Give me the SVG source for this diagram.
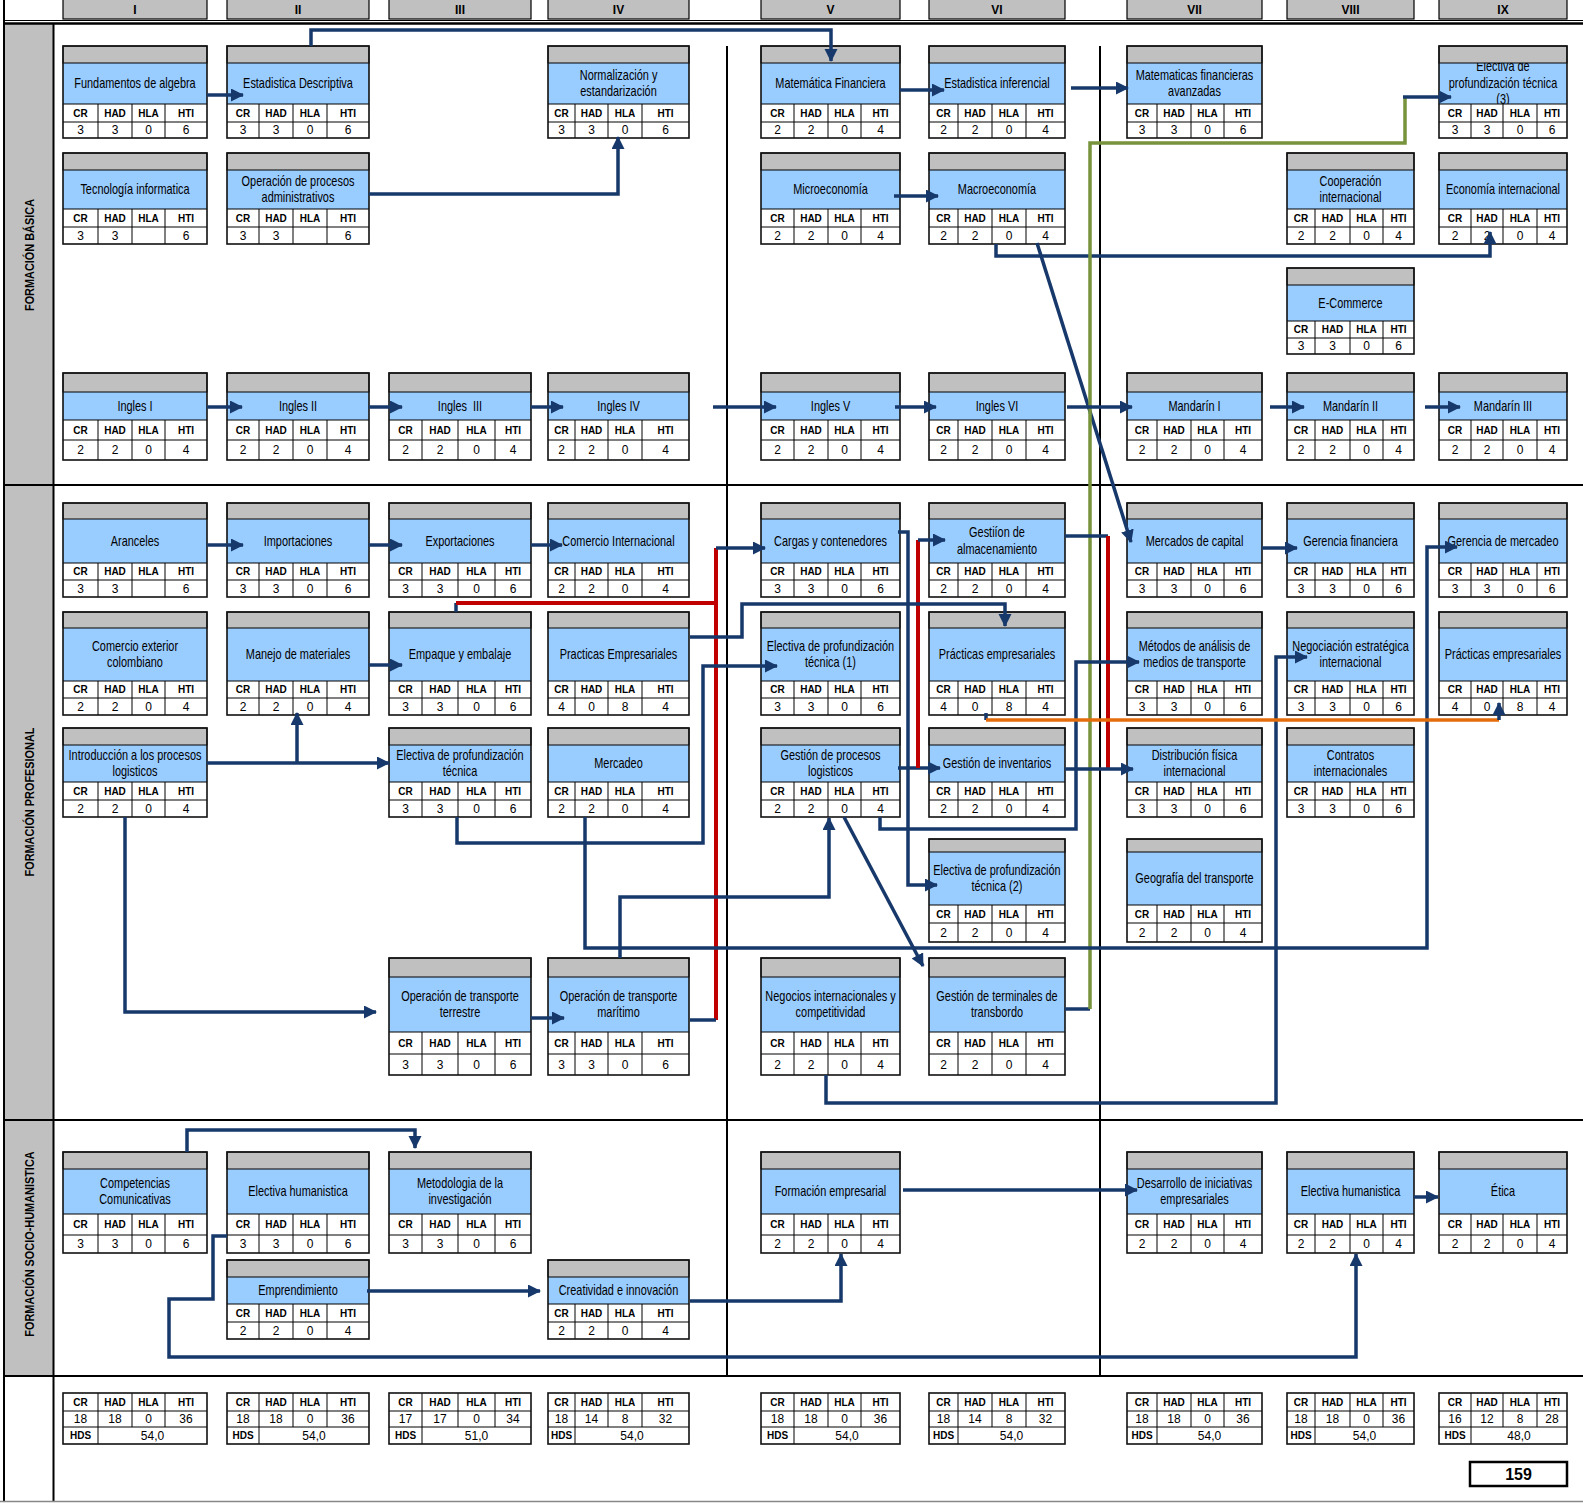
<svg xmlns="http://www.w3.org/2000/svg" xmlns:xlink="http://www.w3.org/1999/xlink" width="1583" height="1503" viewBox="0 0 1583 1503">
<style>
text{font-family:'Liberation Sans',Arial,sans-serif;text-anchor:middle;fill:#000}
.t{font-size:14px;transform-box:fill-box;transform-origin:center;transform:scaleX(0.78)}
.l{font-size:10px;font-weight:bold}
.v{font-size:12px}
.h{font-size:12px;font-weight:bold}
.s{font-size:13.3px;font-weight:bold}
.bl{fill:#99CCFF}
.gr{fill:#C0C0C0;stroke:#000;stroke-width:1}
.w{fill:#fff}
.tl{fill:none;stroke:#000;stroke-width:1}
.o{fill:none;stroke:#111;stroke-width:1.6}
.hd{fill:#C0C0C0;stroke:#000;stroke-width:1.2}
.fr{fill:none;stroke:#000;stroke-width:2}
.c{fill:none;stroke:#17386A;stroke-width:3.5}
.a{marker-end:url(#ah)}
.r{fill:none;stroke:#C00000;stroke-width:4}
.g{fill:none;stroke:#77933C;stroke-width:3.5}
.or{fill:none;stroke:#E46C0A;stroke-width:3.5}
</style>
<defs>
<marker id="ah" markerUnits="userSpaceOnUse" markerWidth="14" markerHeight="14" refX="12" refY="6.5" orient="auto"><path d="M0,0L13,6.5L0,13Z" fill="#17386A"/></marker>
<text id="lbI" class="l"><tspan x="80.5">CR</tspan><tspan x="115">HAD</tspan><tspan x="148.5">HLA</tspan><tspan x="186">HTI</tspan></text>
<text id="lbII" class="l"><tspan x="243">CR</tspan><tspan x="276">HAD</tspan><tspan x="310">HLA</tspan><tspan x="348">HTI</tspan></text>
<text id="lbIII" class="l"><tspan x="405.5">CR</tspan><tspan x="440">HAD</tspan><tspan x="476.5">HLA</tspan><tspan x="513">HTI</tspan></text>
<text id="lbIV" class="l"><tspan x="561.5">CR</tspan><tspan x="591.5">HAD</tspan><tspan x="625">HLA</tspan><tspan x="665.5">HTI</tspan></text>
<text id="lbV" class="l"><tspan x="777.5">CR</tspan><tspan x="811">HAD</tspan><tspan x="844.5">HLA</tspan><tspan x="880.5">HTI</tspan></text>
<text id="lbVI" class="l"><tspan x="943.5">CR</tspan><tspan x="975">HAD</tspan><tspan x="1009">HLA</tspan><tspan x="1045.5">HTI</tspan></text>
<text id="lbVII" class="l"><tspan x="1142">CR</tspan><tspan x="1174">HAD</tspan><tspan x="1207.5">HLA</tspan><tspan x="1243">HTI</tspan></text>
<text id="lbVIII" class="l"><tspan x="1301">CR</tspan><tspan x="1332.5">HAD</tspan><tspan x="1366.5">HLA</tspan><tspan x="1398.5">HTI</tspan></text>
<text id="lbIX" class="l"><tspan x="1455">CR</tspan><tspan x="1487">HAD</tspan><tspan x="1520">HLA</tspan><tspan x="1552">HTI</tspan></text>
</defs>
<rect x="0" y="0" width="1583" height="1503" fill="#fff"/>

<g id="frame">
<rect x="4" y="24" width="49.5" height="1352" fill="#C0C0C0"/>
<path class="fr" d="M4,0V1501M53.5,24V1501M4,485H1583M4,1120H1583M4,1376H1583"/>
<path fill="none" stroke="#000" stroke-width="1.2" d="M4,20.5H1583"/>
<path fill="none" stroke="#000" stroke-width="2.5" d="M4,23.5H1583"/>
<path fill="none" stroke="#000" stroke-width="2" d="M727,46V1376M1100,46V1376"/>
<path fill="none" stroke="#888" stroke-width="1.5" d="M0,1501.5H1583"/>
<text class="s" transform="translate(34,255) rotate(-90) scale(0.82,1)">FORMACIÓN BÁSICA</text>
<text class="s" transform="translate(34,802) rotate(-90) scale(0.82,1)">FORMACIÓN PROFESIONAL</text>
<text class="s" transform="translate(34,1244) rotate(-90) scale(0.82,1)">FORMACIÓN SOCIO-HUMANISTICA</text>
</g>

<g id="headers">
<rect class="hd" x="63" y="-1" width="144" height="20"/><text class="h" x="135" y="14">I</text>
<rect class="hd" x="227" y="-1" width="142" height="20"/><text class="h" x="298" y="14">II</text>
<rect class="hd" x="389" y="-1" width="142" height="20"/><text class="h" x="460" y="14">III</text>
<rect class="hd" x="548" y="-1" width="141" height="20"/><text class="h" x="618.5" y="14">IV</text>
<rect class="hd" x="761" y="-1" width="139" height="20"/><text class="h" x="830.5" y="14">V</text>
<rect class="hd" x="929" y="-1" width="136" height="20"/><text class="h" x="997" y="14">VI</text>
<rect class="hd" x="1127" y="-1" width="135" height="20"/><text class="h" x="1194.5" y="14">VII</text>
<rect class="hd" x="1287" y="-1" width="127" height="20"/><text class="h" x="1350.5" y="14">VIII</text>
<rect class="hd" x="1439" y="-1" width="128" height="20"/><text class="h" x="1503" y="14">IX</text>
</g>

<!-- Row A -->
<g id="fundamentos-algebra">
<rect class="bl" x="63" y="63" width="144" height="41"/>
<text class="t" x="135" y="88.3">Fundamentos de algebra</text>
<rect class="gr" x="63" y="46" width="144" height="17"/>
<rect class="w" x="63" y="104" width="144" height="34"/>
<path class="tl" d="M63,104H207M63,122H207M98,104V138M132,104V138M165,104V138"/>
<use href="#lbI" y="116.6"/>
<text class="v" y="134.3"><tspan x="80.5">3</tspan><tspan x="115">3</tspan><tspan x="148.5">0</tspan><tspan x="186">6</tspan></text>
<rect class="o" x="63" y="46" width="144" height="92"/>
</g>
<g id="estadistica-descriptiva">
<rect class="bl" x="227" y="63" width="142" height="41"/>
<text class="t" x="298" y="88.3">Estadistica Descriptiva</text>
<rect class="gr" x="227" y="46" width="142" height="17"/>
<rect class="w" x="227" y="104" width="142" height="34"/>
<path class="tl" d="M227,104H369M227,122H369M259,104V138M293,104V138M327,104V138"/>
<use href="#lbII" y="116.6"/>
<text class="v" y="134.3"><tspan x="243">3</tspan><tspan x="276">3</tspan><tspan x="310">0</tspan><tspan x="348">6</tspan></text>
<rect class="o" x="227" y="46" width="142" height="92"/>
</g>
<g id="normalizacion">
<rect class="bl" x="548" y="63" width="141" height="41"/>
<text class="t" x="618.5" y="80">Normalización y</text>
<text class="t" x="618.5" y="96.5">estandarización</text>
<rect class="gr" x="548" y="46" width="141" height="17"/>
<rect class="w" x="548" y="104" width="141" height="34"/>
<path class="tl" d="M548,104H689M548,122H689M575,104V138M608,104V138M642,104V138"/>
<use href="#lbIV" y="116.6"/>
<text class="v" y="134.3"><tspan x="561.5">3</tspan><tspan x="591.5">3</tspan><tspan x="625">0</tspan><tspan x="665.5">6</tspan></text>
<rect class="o" x="548" y="46" width="141" height="92"/>
</g>
<g id="matematica-financiera">
<rect class="bl" x="761" y="63" width="139" height="41"/>
<text class="t" x="830.5" y="88.3">Matemática Financiera</text>
<rect class="gr" x="761" y="46" width="139" height="17"/>
<rect class="w" x="761" y="104" width="139" height="34"/>
<path class="tl" d="M761,104H900M761,122H900M794,104V138M828,104V138M861,104V138"/>
<use href="#lbV" y="116.6"/>
<text class="v" y="134.3"><tspan x="777.5">2</tspan><tspan x="811">2</tspan><tspan x="844.5">0</tspan><tspan x="880.5">4</tspan></text>
<rect class="o" x="761" y="46" width="139" height="92"/>
</g>
<g id="estadistica-inferencial">
<rect class="bl" x="929" y="63" width="136" height="41"/>
<text class="t" x="997" y="88.3">Estadistica inferencial</text>
<rect class="gr" x="929" y="46" width="136" height="17"/>
<rect class="w" x="929" y="104" width="136" height="34"/>
<path class="tl" d="M929,104H1065M929,122H1065M958,104V138M992,104V138M1026,104V138"/>
<use href="#lbVI" y="116.6"/>
<text class="v" y="134.3"><tspan x="943.5">2</tspan><tspan x="975">2</tspan><tspan x="1009">0</tspan><tspan x="1045.5">4</tspan></text>
<rect class="o" x="929" y="46" width="136" height="92"/>
</g>
<g id="matematicas-financieras-avanzadas">
<rect class="bl" x="1127" y="63" width="135" height="41"/>
<text class="t" x="1194.5" y="80">Matematicas financieras</text>
<text class="t" x="1194.5" y="96.5">avanzadas</text>
<rect class="gr" x="1127" y="46" width="135" height="17"/>
<rect class="w" x="1127" y="104" width="135" height="34"/>
<path class="tl" d="M1127,104H1262M1127,122H1262M1157,104V138M1191,104V138M1224,104V138"/>
<use href="#lbVII" y="116.6"/>
<text class="v" y="134.3"><tspan x="1142">3</tspan><tspan x="1174">3</tspan><tspan x="1207.5">0</tspan><tspan x="1243">6</tspan></text>
<rect class="o" x="1127" y="46" width="135" height="92"/>
</g>
<g id="electiva-tecnica-3">
<rect class="bl" x="1439" y="63" width="128" height="41"/>
<text class="t" x="1503" y="71.5">Electiva de</text>
<text class="t" x="1503" y="88.1">profundización técnica</text>
<text class="t" x="1503" y="104.1">(3)</text>
<rect class="gr" x="1439" y="46" width="128" height="17"/>
<rect class="w" x="1439" y="104" width="128" height="34"/>
<path class="tl" d="M1439,104H1567M1439,122H1567M1471,104V138M1503,104V138M1537,104V138"/>
<use href="#lbIX" y="116.6"/>
<text class="v" y="134.3"><tspan x="1455">3</tspan><tspan x="1487">3</tspan><tspan x="1520">0</tspan><tspan x="1552">6</tspan></text>
<rect class="o" x="1439" y="46" width="128" height="92"/>
</g>

<!-- Row B -->
<g id="tecnologia-informatica">
<rect class="bl" x="63" y="170" width="144" height="39"/>
<text class="t" x="135" y="194.3">Tecnología informatica</text>
<rect class="gr" x="63" y="153" width="144" height="17"/>
<rect class="w" x="63" y="209" width="144" height="35"/>
<path class="tl" d="M63,209H207M63,227H207M98,209V244M132,209V244M165,209V244"/>
<use href="#lbI" y="221.6"/>
<text class="v" y="239.8"><tspan x="80.5">3</tspan><tspan x="115">3</tspan><tspan x="186">6</tspan></text>
<rect class="o" x="63" y="153" width="144" height="91"/>
</g>
<g id="operacion-procesos-administrativos">
<rect class="bl" x="227" y="170" width="142" height="39"/>
<text class="t" x="298" y="186">Operación de procesos</text>
<text class="t" x="298" y="202.5">administrativos</text>
<rect class="gr" x="227" y="153" width="142" height="17"/>
<rect class="w" x="227" y="209" width="142" height="35"/>
<path class="tl" d="M227,209H369M227,227H369M259,209V244M293,209V244M327,209V244"/>
<use href="#lbII" y="221.6"/>
<text class="v" y="239.8"><tspan x="243">3</tspan><tspan x="276">3</tspan><tspan x="348">6</tspan></text>
<rect class="o" x="227" y="153" width="142" height="91"/>
</g>
<g id="microeconomia">
<rect class="bl" x="761" y="170" width="139" height="39"/>
<text class="t" x="830.5" y="194.3">Microeconomía</text>
<rect class="gr" x="761" y="153" width="139" height="17"/>
<rect class="w" x="761" y="209" width="139" height="35"/>
<path class="tl" d="M761,209H900M761,227H900M794,209V244M828,209V244M861,209V244"/>
<use href="#lbV" y="221.6"/>
<text class="v" y="239.8"><tspan x="777.5">2</tspan><tspan x="811">2</tspan><tspan x="844.5">0</tspan><tspan x="880.5">4</tspan></text>
<rect class="o" x="761" y="153" width="139" height="91"/>
</g>
<g id="macroeconomia">
<rect class="bl" x="929" y="170" width="136" height="39"/>
<text class="t" x="997" y="194.3">Macroeconomía</text>
<rect class="gr" x="929" y="153" width="136" height="17"/>
<rect class="w" x="929" y="209" width="136" height="35"/>
<path class="tl" d="M929,209H1065M929,227H1065M958,209V244M992,209V244M1026,209V244"/>
<use href="#lbVI" y="221.6"/>
<text class="v" y="239.8"><tspan x="943.5">2</tspan><tspan x="975">2</tspan><tspan x="1009">0</tspan><tspan x="1045.5">4</tspan></text>
<rect class="o" x="929" y="153" width="136" height="91"/>
</g>
<g id="cooperacion-internacional">
<rect class="bl" x="1287" y="170" width="127" height="39"/>
<text class="t" x="1350.5" y="186">Cooperación</text>
<text class="t" x="1350.5" y="202.5">internacional</text>
<rect class="gr" x="1287" y="153" width="127" height="17"/>
<rect class="w" x="1287" y="209" width="127" height="35"/>
<path class="tl" d="M1287,209H1414M1287,227H1414M1315,209V244M1350,209V244M1383,209V244"/>
<use href="#lbVIII" y="221.6"/>
<text class="v" y="239.8"><tspan x="1301">2</tspan><tspan x="1332.5">2</tspan><tspan x="1366.5">0</tspan><tspan x="1398.5">4</tspan></text>
<rect class="o" x="1287" y="153" width="127" height="91"/>
</g>
<g id="economia-internacional">
<rect class="bl" x="1439" y="170" width="128" height="39"/>
<text class="t" x="1503" y="194.3">Economía internacional</text>
<rect class="gr" x="1439" y="153" width="128" height="17"/>
<rect class="w" x="1439" y="209" width="128" height="35"/>
<path class="tl" d="M1439,209H1567M1439,227H1567M1471,209V244M1503,209V244M1537,209V244"/>
<use href="#lbIX" y="221.6"/>
<text class="v" y="239.8"><tspan x="1455">2</tspan><tspan x="1487">2</tspan><tspan x="1520">0</tspan><tspan x="1552">4</tspan></text>
<rect class="o" x="1439" y="153" width="128" height="91"/>
</g>

<!-- Row C -->
<g id="e-commerce">
<rect class="bl" x="1287" y="285" width="127" height="36"/>
<text class="t" x="1350.5" y="307.8">E-Commerce</text>
<rect class="gr" x="1287" y="268" width="127" height="17"/>
<rect class="w" x="1287" y="321" width="127" height="33"/>
<path class="tl" d="M1287,321H1414M1287,338H1414M1315,321V354M1350,321V354M1383,321V354"/>
<use href="#lbVIII" y="333.1"/>
<text class="v" y="350.3"><tspan x="1301">3</tspan><tspan x="1332.5">3</tspan><tspan x="1366.5">0</tspan><tspan x="1398.5">6</tspan></text>
<rect class="o" x="1287" y="268" width="127" height="86"/>
</g>

<!-- Row D -->
<g id="ingles-1">
<rect class="bl" x="63" y="392" width="144" height="28"/>
<text class="t" x="135" y="410.8">Ingles I</text>
<rect class="gr" x="63" y="373" width="144" height="19"/>
<rect class="w" x="63" y="420" width="144" height="40"/>
<path class="tl" d="M63,420H207M63,440H207M98,420V460M132,420V460M165,420V460"/>
<use href="#lbI" y="433.6"/>
<text class="v" y="454.3"><tspan x="80.5">2</tspan><tspan x="115">2</tspan><tspan x="148.5">0</tspan><tspan x="186">4</tspan></text>
<rect class="o" x="63" y="373" width="144" height="87"/>
</g>
<g id="ingles-2">
<rect class="bl" x="227" y="392" width="142" height="28"/>
<text class="t" x="298" y="410.8">Ingles II</text>
<rect class="gr" x="227" y="373" width="142" height="19"/>
<rect class="w" x="227" y="420" width="142" height="40"/>
<path class="tl" d="M227,420H369M227,440H369M259,420V460M293,420V460M327,420V460"/>
<use href="#lbII" y="433.6"/>
<text class="v" y="454.3"><tspan x="243">2</tspan><tspan x="276">2</tspan><tspan x="310">0</tspan><tspan x="348">4</tspan></text>
<rect class="o" x="227" y="373" width="142" height="87"/>
</g>
<g id="ingles-3">
<rect class="bl" x="389" y="392" width="142" height="28"/>
<text class="t" x="460" y="410.8">Ingles&#160; III</text>
<rect class="gr" x="389" y="373" width="142" height="19"/>
<rect class="w" x="389" y="420" width="142" height="40"/>
<path class="tl" d="M389,420H531M389,440H531M422,420V460M458,420V460M495,420V460"/>
<use href="#lbIII" y="433.6"/>
<text class="v" y="454.3"><tspan x="405.5">2</tspan><tspan x="440">2</tspan><tspan x="476.5">0</tspan><tspan x="513">4</tspan></text>
<rect class="o" x="389" y="373" width="142" height="87"/>
</g>
<g id="ingles-4">
<rect class="bl" x="548" y="392" width="141" height="28"/>
<text class="t" x="618.5" y="410.8">Ingles IV</text>
<rect class="gr" x="548" y="373" width="141" height="19"/>
<rect class="w" x="548" y="420" width="141" height="40"/>
<path class="tl" d="M548,420H689M548,440H689M575,420V460M608,420V460M642,420V460"/>
<use href="#lbIV" y="433.6"/>
<text class="v" y="454.3"><tspan x="561.5">2</tspan><tspan x="591.5">2</tspan><tspan x="625">0</tspan><tspan x="665.5">4</tspan></text>
<rect class="o" x="548" y="373" width="141" height="87"/>
</g>
<g id="ingles-5">
<rect class="bl" x="761" y="392" width="139" height="28"/>
<text class="t" x="830.5" y="410.8">Ingles V</text>
<rect class="gr" x="761" y="373" width="139" height="19"/>
<rect class="w" x="761" y="420" width="139" height="40"/>
<path class="tl" d="M761,420H900M761,440H900M794,420V460M828,420V460M861,420V460"/>
<use href="#lbV" y="433.6"/>
<text class="v" y="454.3"><tspan x="777.5">2</tspan><tspan x="811">2</tspan><tspan x="844.5">0</tspan><tspan x="880.5">4</tspan></text>
<rect class="o" x="761" y="373" width="139" height="87"/>
</g>
<g id="ingles-6">
<rect class="bl" x="929" y="392" width="136" height="28"/>
<text class="t" x="997" y="410.8">Ingles VI</text>
<rect class="gr" x="929" y="373" width="136" height="19"/>
<rect class="w" x="929" y="420" width="136" height="40"/>
<path class="tl" d="M929,420H1065M929,440H1065M958,420V460M992,420V460M1026,420V460"/>
<use href="#lbVI" y="433.6"/>
<text class="v" y="454.3"><tspan x="943.5">2</tspan><tspan x="975">2</tspan><tspan x="1009">0</tspan><tspan x="1045.5">4</tspan></text>
<rect class="o" x="929" y="373" width="136" height="87"/>
</g>
<g id="mandarin-1">
<rect class="bl" x="1127" y="392" width="135" height="28"/>
<text class="t" x="1194.5" y="410.8">Mandarín I</text>
<rect class="gr" x="1127" y="373" width="135" height="19"/>
<rect class="w" x="1127" y="420" width="135" height="40"/>
<path class="tl" d="M1127,420H1262M1127,440H1262M1157,420V460M1191,420V460M1224,420V460"/>
<use href="#lbVII" y="433.6"/>
<text class="v" y="454.3"><tspan x="1142">2</tspan><tspan x="1174">2</tspan><tspan x="1207.5">0</tspan><tspan x="1243">4</tspan></text>
<rect class="o" x="1127" y="373" width="135" height="87"/>
</g>
<g id="mandarin-2">
<rect class="bl" x="1287" y="392" width="127" height="28"/>
<text class="t" x="1350.5" y="410.8">Mandarín II</text>
<rect class="gr" x="1287" y="373" width="127" height="19"/>
<rect class="w" x="1287" y="420" width="127" height="40"/>
<path class="tl" d="M1287,420H1414M1287,440H1414M1315,420V460M1350,420V460M1383,420V460"/>
<use href="#lbVIII" y="433.6"/>
<text class="v" y="454.3"><tspan x="1301">2</tspan><tspan x="1332.5">2</tspan><tspan x="1366.5">0</tspan><tspan x="1398.5">4</tspan></text>
<rect class="o" x="1287" y="373" width="127" height="87"/>
</g>
<g id="mandarin-3">
<rect class="bl" x="1439" y="392" width="128" height="28"/>
<text class="t" x="1503" y="410.8">Mandarín III</text>
<rect class="gr" x="1439" y="373" width="128" height="19"/>
<rect class="w" x="1439" y="420" width="128" height="40"/>
<path class="tl" d="M1439,420H1567M1439,440H1567M1471,420V460M1503,420V460M1537,420V460"/>
<use href="#lbIX" y="433.6"/>
<text class="v" y="454.3"><tspan x="1455">2</tspan><tspan x="1487">2</tspan><tspan x="1520">0</tspan><tspan x="1552">4</tspan></text>
<rect class="o" x="1439" y="373" width="128" height="87"/>
</g>

<!-- Row E -->
<g id="aranceles">
<rect class="bl" x="63" y="519" width="144" height="44"/>
<text class="t" x="135" y="545.8">Aranceles</text>
<rect class="gr" x="63" y="503" width="144" height="16"/>
<rect class="w" x="63" y="563" width="144" height="34"/>
<path class="tl" d="M63,563H207M63,580H207M98,563V597M132,563V597M165,563V597"/>
<use href="#lbI" y="575.1"/>
<text class="v" y="592.8"><tspan x="80.5">3</tspan><tspan x="115">3</tspan><tspan x="186">6</tspan></text>
<rect class="o" x="63" y="503" width="144" height="94"/>
</g>
<g id="importaciones">
<rect class="bl" x="227" y="519" width="142" height="44"/>
<text class="t" x="298" y="545.8">Importaciones</text>
<rect class="gr" x="227" y="503" width="142" height="16"/>
<rect class="w" x="227" y="563" width="142" height="34"/>
<path class="tl" d="M227,563H369M227,580H369M259,563V597M293,563V597M327,563V597"/>
<use href="#lbII" y="575.1"/>
<text class="v" y="592.8"><tspan x="243">3</tspan><tspan x="276">3</tspan><tspan x="310">0</tspan><tspan x="348">6</tspan></text>
<rect class="o" x="227" y="503" width="142" height="94"/>
</g>
<g id="exportaciones">
<rect class="bl" x="389" y="519" width="142" height="44"/>
<text class="t" x="460" y="545.8">Exportaciones</text>
<rect class="gr" x="389" y="503" width="142" height="16"/>
<rect class="w" x="389" y="563" width="142" height="34"/>
<path class="tl" d="M389,563H531M389,580H531M422,563V597M458,563V597M495,563V597"/>
<use href="#lbIII" y="575.1"/>
<text class="v" y="592.8"><tspan x="405.5">3</tspan><tspan x="440">3</tspan><tspan x="476.5">0</tspan><tspan x="513">6</tspan></text>
<rect class="o" x="389" y="503" width="142" height="94"/>
</g>
<g id="comercio-internacional">
<rect class="bl" x="548" y="519" width="141" height="44"/>
<text class="t" x="618.5" y="545.8">Comercio Internacional</text>
<rect class="gr" x="548" y="503" width="141" height="16"/>
<rect class="w" x="548" y="563" width="141" height="34"/>
<path class="tl" d="M548,563H689M548,580H689M575,563V597M608,563V597M642,563V597"/>
<use href="#lbIV" y="575.1"/>
<text class="v" y="592.8"><tspan x="561.5">2</tspan><tspan x="591.5">2</tspan><tspan x="625">0</tspan><tspan x="665.5">4</tspan></text>
<rect class="o" x="548" y="503" width="141" height="94"/>
</g>
<g id="cargas-contenedores">
<rect class="bl" x="761" y="519" width="139" height="44"/>
<text class="t" x="830.5" y="545.8">Cargas y contenedores</text>
<rect class="gr" x="761" y="503" width="139" height="16"/>
<rect class="w" x="761" y="563" width="139" height="34"/>
<path class="tl" d="M761,563H900M761,580H900M794,563V597M828,563V597M861,563V597"/>
<use href="#lbV" y="575.1"/>
<text class="v" y="592.8"><tspan x="777.5">3</tspan><tspan x="811">3</tspan><tspan x="844.5">0</tspan><tspan x="880.5">6</tspan></text>
<rect class="o" x="761" y="503" width="139" height="94"/>
</g>
<g id="gestion-almacenamiento">
<rect class="bl" x="929" y="519" width="136" height="44"/>
<text class="t" x="997" y="537.5">Gestiíon de</text>
<text class="t" x="997" y="554">almacenamiento</text>
<rect class="gr" x="929" y="503" width="136" height="16"/>
<rect class="w" x="929" y="563" width="136" height="34"/>
<path class="tl" d="M929,563H1065M929,580H1065M958,563V597M992,563V597M1026,563V597"/>
<use href="#lbVI" y="575.1"/>
<text class="v" y="592.8"><tspan x="943.5">2</tspan><tspan x="975">2</tspan><tspan x="1009">0</tspan><tspan x="1045.5">4</tspan></text>
<rect class="o" x="929" y="503" width="136" height="94"/>
</g>
<g id="mercados-capital">
<rect class="bl" x="1127" y="519" width="135" height="44"/>
<text class="t" x="1194.5" y="545.8">Mercados de capital</text>
<rect class="gr" x="1127" y="503" width="135" height="16"/>
<rect class="w" x="1127" y="563" width="135" height="34"/>
<path class="tl" d="M1127,563H1262M1127,580H1262M1157,563V597M1191,563V597M1224,563V597"/>
<use href="#lbVII" y="575.1"/>
<text class="v" y="592.8"><tspan x="1142">3</tspan><tspan x="1174">3</tspan><tspan x="1207.5">0</tspan><tspan x="1243">6</tspan></text>
<rect class="o" x="1127" y="503" width="135" height="94"/>
</g>
<g id="gerencia-financiera">
<rect class="bl" x="1287" y="519" width="127" height="44"/>
<text class="t" x="1350.5" y="545.8">Gerencia financiera</text>
<rect class="gr" x="1287" y="503" width="127" height="16"/>
<rect class="w" x="1287" y="563" width="127" height="34"/>
<path class="tl" d="M1287,563H1414M1287,580H1414M1315,563V597M1350,563V597M1383,563V597"/>
<use href="#lbVIII" y="575.1"/>
<text class="v" y="592.8"><tspan x="1301">3</tspan><tspan x="1332.5">3</tspan><tspan x="1366.5">0</tspan><tspan x="1398.5">6</tspan></text>
<rect class="o" x="1287" y="503" width="127" height="94"/>
</g>
<g id="gerencia-mercadeo">
<rect class="bl" x="1439" y="519" width="128" height="44"/>
<text class="t" x="1503" y="545.8">Gerencia de mercadeo</text>
<rect class="gr" x="1439" y="503" width="128" height="16"/>
<rect class="w" x="1439" y="563" width="128" height="34"/>
<path class="tl" d="M1439,563H1567M1439,580H1567M1471,563V597M1503,563V597M1537,563V597"/>
<use href="#lbIX" y="575.1"/>
<text class="v" y="592.8"><tspan x="1455">3</tspan><tspan x="1487">3</tspan><tspan x="1520">0</tspan><tspan x="1552">6</tspan></text>
<rect class="o" x="1439" y="503" width="128" height="94"/>
</g>

<!-- Row F -->
<g id="comercio-exterior">
<rect class="bl" x="63" y="628" width="144" height="53"/>
<text class="t" x="135" y="651">Comercio exterior</text>
<text class="t" x="135" y="667.5">colombiano</text>
<rect class="gr" x="63" y="612" width="144" height="16"/>
<rect class="w" x="63" y="681" width="144" height="34"/>
<path class="tl" d="M63,681H207M63,698H207M98,681V715M132,681V715M165,681V715"/>
<use href="#lbI" y="693.1"/>
<text class="v" y="710.8"><tspan x="80.5">2</tspan><tspan x="115">2</tspan><tspan x="148.5">0</tspan><tspan x="186">4</tspan></text>
<rect class="o" x="63" y="612" width="144" height="103"/>
</g>
<g id="manejo-materiales">
<rect class="bl" x="227" y="628" width="142" height="53"/>
<text class="t" x="298" y="659.3">Manejo de materiales</text>
<rect class="gr" x="227" y="612" width="142" height="16"/>
<rect class="w" x="227" y="681" width="142" height="34"/>
<path class="tl" d="M227,681H369M227,698H369M259,681V715M293,681V715M327,681V715"/>
<use href="#lbII" y="693.1"/>
<text class="v" y="710.8"><tspan x="243">2</tspan><tspan x="276">2</tspan><tspan x="310">0</tspan><tspan x="348">4</tspan></text>
<rect class="o" x="227" y="612" width="142" height="103"/>
</g>
<g id="empaque-embalaje">
<rect class="bl" x="389" y="628" width="142" height="53"/>
<text class="t" x="460" y="659.3">Empaque y embalaje</text>
<rect class="gr" x="389" y="612" width="142" height="16"/>
<rect class="w" x="389" y="681" width="142" height="34"/>
<path class="tl" d="M389,681H531M389,698H531M422,681V715M458,681V715M495,681V715"/>
<use href="#lbIII" y="693.1"/>
<text class="v" y="710.8"><tspan x="405.5">3</tspan><tspan x="440">3</tspan><tspan x="476.5">0</tspan><tspan x="513">6</tspan></text>
<rect class="o" x="389" y="612" width="142" height="103"/>
</g>
<g id="practicas-empresariales-4">
<rect class="bl" x="548" y="628" width="141" height="53"/>
<text class="t" x="618.5" y="659.3">Practicas Empresariales</text>
<rect class="gr" x="548" y="612" width="141" height="16"/>
<rect class="w" x="548" y="681" width="141" height="34"/>
<path class="tl" d="M548,681H689M548,698H689M575,681V715M608,681V715M642,681V715"/>
<use href="#lbIV" y="693.1"/>
<text class="v" y="710.8"><tspan x="561.5">4</tspan><tspan x="591.5">0</tspan><tspan x="625">8</tspan><tspan x="665.5">4</tspan></text>
<rect class="o" x="548" y="612" width="141" height="103"/>
</g>
<g id="electiva-tecnica-1">
<rect class="bl" x="761" y="628" width="139" height="53"/>
<text class="t" x="830.5" y="651">Electiva de profundización</text>
<text class="t" x="830.5" y="667.5">técnica (1)</text>
<rect class="gr" x="761" y="612" width="139" height="16"/>
<rect class="w" x="761" y="681" width="139" height="34"/>
<path class="tl" d="M761,681H900M761,698H900M794,681V715M828,681V715M861,681V715"/>
<use href="#lbV" y="693.1"/>
<text class="v" y="710.8"><tspan x="777.5">3</tspan><tspan x="811">3</tspan><tspan x="844.5">0</tspan><tspan x="880.5">6</tspan></text>
<rect class="o" x="761" y="612" width="139" height="103"/>
</g>
<g id="practicas-empresariales-6">
<rect class="bl" x="929" y="628" width="136" height="53"/>
<text class="t" x="997" y="659.3">Prácticas empresariales</text>
<rect class="gr" x="929" y="612" width="136" height="16"/>
<rect class="w" x="929" y="681" width="136" height="34"/>
<path class="tl" d="M929,681H1065M929,698H1065M958,681V715M992,681V715M1026,681V715"/>
<use href="#lbVI" y="693.1"/>
<text class="v" y="710.8"><tspan x="943.5">4</tspan><tspan x="975">0</tspan><tspan x="1009">8</tspan><tspan x="1045.5">4</tspan></text>
<rect class="o" x="929" y="612" width="136" height="103"/>
</g>
<g id="metodos-analisis">
<rect class="bl" x="1127" y="628" width="135" height="53"/>
<text class="t" x="1194.5" y="651">Métodos de análisis de</text>
<text class="t" x="1194.5" y="667.5">medios de transporte</text>
<rect class="gr" x="1127" y="612" width="135" height="16"/>
<rect class="w" x="1127" y="681" width="135" height="34"/>
<path class="tl" d="M1127,681H1262M1127,698H1262M1157,681V715M1191,681V715M1224,681V715"/>
<use href="#lbVII" y="693.1"/>
<text class="v" y="710.8"><tspan x="1142">3</tspan><tspan x="1174">3</tspan><tspan x="1207.5">0</tspan><tspan x="1243">6</tspan></text>
<rect class="o" x="1127" y="612" width="135" height="103"/>
</g>
<g id="negociacion-estrategica">
<rect class="bl" x="1287" y="628" width="127" height="53"/>
<text class="t" x="1350.5" y="651">Negociación estratégica</text>
<text class="t" x="1350.5" y="667.5">internacional</text>
<rect class="gr" x="1287" y="612" width="127" height="16"/>
<rect class="w" x="1287" y="681" width="127" height="34"/>
<path class="tl" d="M1287,681H1414M1287,698H1414M1315,681V715M1350,681V715M1383,681V715"/>
<use href="#lbVIII" y="693.1"/>
<text class="v" y="710.8"><tspan x="1301">3</tspan><tspan x="1332.5">3</tspan><tspan x="1366.5">0</tspan><tspan x="1398.5">6</tspan></text>
<rect class="o" x="1287" y="612" width="127" height="103"/>
</g>
<g id="practicas-empresariales-9">
<rect class="bl" x="1439" y="628" width="128" height="53"/>
<text class="t" x="1503" y="659.3">Prácticas empresariales</text>
<rect class="gr" x="1439" y="612" width="128" height="16"/>
<rect class="w" x="1439" y="681" width="128" height="34"/>
<path class="tl" d="M1439,681H1567M1439,698H1567M1471,681V715M1503,681V715M1537,681V715"/>
<use href="#lbIX" y="693.1"/>
<text class="v" y="710.8"><tspan x="1455">4</tspan><tspan x="1487">0</tspan><tspan x="1520">8</tspan><tspan x="1552">4</tspan></text>
<rect class="o" x="1439" y="612" width="128" height="103"/>
</g>

<!-- Row G -->
<g id="introduccion-procesos">
<rect class="bl" x="63" y="745" width="144" height="37"/>
<text class="t" x="135" y="760">Introducción a los procesos</text>
<text class="t" x="135" y="776.5">logisticos</text>
<rect class="gr" x="63" y="728" width="144" height="17"/>
<rect class="w" x="63" y="782" width="144" height="35"/>
<path class="tl" d="M63,782H207M63,800H207M98,782V817M132,782V817M165,782V817"/>
<use href="#lbI" y="794.6"/>
<text class="v" y="812.8"><tspan x="80.5">2</tspan><tspan x="115">2</tspan><tspan x="148.5">0</tspan><tspan x="186">4</tspan></text>
<rect class="o" x="63" y="728" width="144" height="89"/>
</g>
<g id="electiva-tecnica-3s">
<rect class="bl" x="389" y="745" width="142" height="37"/>
<text class="t" x="460" y="760">Electiva de profundización</text>
<text class="t" x="460" y="776.5">técnica</text>
<rect class="gr" x="389" y="728" width="142" height="17"/>
<rect class="w" x="389" y="782" width="142" height="35"/>
<path class="tl" d="M389,782H531M389,800H531M422,782V817M458,782V817M495,782V817"/>
<use href="#lbIII" y="794.6"/>
<text class="v" y="812.8"><tspan x="405.5">3</tspan><tspan x="440">3</tspan><tspan x="476.5">0</tspan><tspan x="513">6</tspan></text>
<rect class="o" x="389" y="728" width="142" height="89"/>
</g>
<g id="mercadeo">
<rect class="bl" x="548" y="745" width="141" height="37"/>
<text class="t" x="618.5" y="768.3">Mercadeo</text>
<rect class="gr" x="548" y="728" width="141" height="17"/>
<rect class="w" x="548" y="782" width="141" height="35"/>
<path class="tl" d="M548,782H689M548,800H689M575,782V817M608,782V817M642,782V817"/>
<use href="#lbIV" y="794.6"/>
<text class="v" y="812.8"><tspan x="561.5">2</tspan><tspan x="591.5">2</tspan><tspan x="625">0</tspan><tspan x="665.5">4</tspan></text>
<rect class="o" x="548" y="728" width="141" height="89"/>
</g>
<g id="gestion-procesos-logisticos">
<rect class="bl" x="761" y="745" width="139" height="37"/>
<text class="t" x="830.5" y="760">Gestión de procesos</text>
<text class="t" x="830.5" y="776.5">logisticos</text>
<rect class="gr" x="761" y="728" width="139" height="17"/>
<rect class="w" x="761" y="782" width="139" height="35"/>
<path class="tl" d="M761,782H900M761,800H900M794,782V817M828,782V817M861,782V817"/>
<use href="#lbV" y="794.6"/>
<text class="v" y="812.8"><tspan x="777.5">2</tspan><tspan x="811">2</tspan><tspan x="844.5">0</tspan><tspan x="880.5">4</tspan></text>
<rect class="o" x="761" y="728" width="139" height="89"/>
</g>
<g id="gestion-inventarios">
<rect class="bl" x="929" y="745" width="136" height="37"/>
<text class="t" x="997" y="768.3">Gestión de inventarios</text>
<rect class="gr" x="929" y="728" width="136" height="17"/>
<rect class="w" x="929" y="782" width="136" height="35"/>
<path class="tl" d="M929,782H1065M929,800H1065M958,782V817M992,782V817M1026,782V817"/>
<use href="#lbVI" y="794.6"/>
<text class="v" y="812.8"><tspan x="943.5">2</tspan><tspan x="975">2</tspan><tspan x="1009">0</tspan><tspan x="1045.5">4</tspan></text>
<rect class="o" x="929" y="728" width="136" height="89"/>
</g>
<g id="distribucion-fisica">
<rect class="bl" x="1127" y="745" width="135" height="37"/>
<text class="t" x="1194.5" y="760">Distribución física</text>
<text class="t" x="1194.5" y="776.5">internacional</text>
<rect class="gr" x="1127" y="728" width="135" height="17"/>
<rect class="w" x="1127" y="782" width="135" height="35"/>
<path class="tl" d="M1127,782H1262M1127,800H1262M1157,782V817M1191,782V817M1224,782V817"/>
<use href="#lbVII" y="794.6"/>
<text class="v" y="812.8"><tspan x="1142">3</tspan><tspan x="1174">3</tspan><tspan x="1207.5">0</tspan><tspan x="1243">6</tspan></text>
<rect class="o" x="1127" y="728" width="135" height="89"/>
</g>
<g id="contratos-internacionales">
<rect class="bl" x="1287" y="745" width="127" height="37"/>
<text class="t" x="1350.5" y="760">Contratos</text>
<text class="t" x="1350.5" y="776.5">internacionales</text>
<rect class="gr" x="1287" y="728" width="127" height="17"/>
<rect class="w" x="1287" y="782" width="127" height="35"/>
<path class="tl" d="M1287,782H1414M1287,800H1414M1315,782V817M1350,782V817M1383,782V817"/>
<use href="#lbVIII" y="794.6"/>
<text class="v" y="812.8"><tspan x="1301">3</tspan><tspan x="1332.5">3</tspan><tspan x="1366.5">0</tspan><tspan x="1398.5">6</tspan></text>
<rect class="o" x="1287" y="728" width="127" height="89"/>
</g>

<!-- Row H -->
<g id="electiva-tecnica-2">
<rect class="bl" x="929" y="852" width="136" height="53"/>
<text class="t" x="997" y="875">Electiva de profundización</text>
<text class="t" x="997" y="891.5">técnica (2)</text>
<rect class="gr" x="929" y="839" width="136" height="13"/>
<rect class="w" x="929" y="905" width="136" height="37"/>
<path class="tl" d="M929,905H1065M929,923H1065M958,905V942M992,905V942M1026,905V942"/>
<use href="#lbVI" y="917.6"/>
<text class="v" y="936.8"><tspan x="943.5">2</tspan><tspan x="975">2</tspan><tspan x="1009">0</tspan><tspan x="1045.5">4</tspan></text>
<rect class="o" x="929" y="839" width="136" height="103"/>
</g>
<g id="geografia-transporte">
<rect class="bl" x="1127" y="852" width="135" height="53"/>
<text class="t" x="1194.5" y="883.3">Geografía del transporte</text>
<rect class="gr" x="1127" y="839" width="135" height="13"/>
<rect class="w" x="1127" y="905" width="135" height="37"/>
<path class="tl" d="M1127,905H1262M1127,923H1262M1157,905V942M1191,905V942M1224,905V942"/>
<use href="#lbVII" y="917.6"/>
<text class="v" y="936.8"><tspan x="1142">2</tspan><tspan x="1174">2</tspan><tspan x="1207.5">0</tspan><tspan x="1243">4</tspan></text>
<rect class="o" x="1127" y="839" width="135" height="103"/>
</g>

<!-- Row I -->
<g id="transporte-terrestre">
<rect class="bl" x="389" y="977" width="142" height="55"/>
<text class="t" x="460" y="1001">Operación de transporte</text>
<text class="t" x="460" y="1017.5">terrestre</text>
<rect class="gr" x="389" y="958" width="142" height="19"/>
<rect class="w" x="389" y="1032" width="142" height="43"/>
<path class="tl" d="M389,1032H531M389,1054H531M422,1032V1075M458,1032V1075M495,1032V1075"/>
<use href="#lbIII" y="1046.6"/>
<text class="v" y="1068.8"><tspan x="405.5">3</tspan><tspan x="440">3</tspan><tspan x="476.5">0</tspan><tspan x="513">6</tspan></text>
<rect class="o" x="389" y="958" width="142" height="117"/>
</g>
<g id="transporte-maritimo">
<rect class="bl" x="548" y="977" width="141" height="55"/>
<text class="t" x="618.5" y="1001">Operación de transporte</text>
<text class="t" x="618.5" y="1017.5">marítimo</text>
<rect class="gr" x="548" y="958" width="141" height="19"/>
<rect class="w" x="548" y="1032" width="141" height="43"/>
<path class="tl" d="M548,1032H689M548,1054H689M575,1032V1075M608,1032V1075M642,1032V1075"/>
<use href="#lbIV" y="1046.6"/>
<text class="v" y="1068.8"><tspan x="561.5">3</tspan><tspan x="591.5">3</tspan><tspan x="625">0</tspan><tspan x="665.5">6</tspan></text>
<rect class="o" x="548" y="958" width="141" height="117"/>
</g>
<g id="negocios-internacionales">
<rect class="bl" x="761" y="977" width="139" height="55"/>
<text class="t" x="830.5" y="1001">Negocios internacionales y</text>
<text class="t" x="830.5" y="1017.5">competitividad</text>
<rect class="gr" x="761" y="958" width="139" height="19"/>
<rect class="w" x="761" y="1032" width="139" height="43"/>
<path class="tl" d="M761,1032H900M761,1054H900M794,1032V1075M828,1032V1075M861,1032V1075"/>
<use href="#lbV" y="1046.6"/>
<text class="v" y="1068.8"><tspan x="777.5">2</tspan><tspan x="811">2</tspan><tspan x="844.5">0</tspan><tspan x="880.5">4</tspan></text>
<rect class="o" x="761" y="958" width="139" height="117"/>
</g>
<g id="gestion-terminales">
<rect class="bl" x="929" y="977" width="136" height="55"/>
<text class="t" x="997" y="1001">Gestión de terminales de</text>
<text class="t" x="997" y="1017.5">transbordo</text>
<rect class="gr" x="929" y="958" width="136" height="19"/>
<rect class="w" x="929" y="1032" width="136" height="43"/>
<path class="tl" d="M929,1032H1065M929,1054H1065M958,1032V1075M992,1032V1075M1026,1032V1075"/>
<use href="#lbVI" y="1046.6"/>
<text class="v" y="1068.8"><tspan x="943.5">2</tspan><tspan x="975">2</tspan><tspan x="1009">0</tspan><tspan x="1045.5">4</tspan></text>
<rect class="o" x="929" y="958" width="136" height="117"/>
</g>

<!-- Row J -->
<g id="competencias-comunicativas">
<rect class="bl" x="63" y="1169" width="144" height="45"/>
<text class="t" x="135" y="1188">Competencias</text>
<text class="t" x="135" y="1204.5">Comunicativas</text>
<rect class="gr" x="63" y="1152" width="144" height="17"/>
<rect class="w" x="63" y="1214" width="144" height="39"/>
<path class="tl" d="M63,1214H207M63,1235H207M98,1214V1253M132,1214V1253M165,1214V1253"/>
<use href="#lbI" y="1228.1"/>
<text class="v" y="1248.3"><tspan x="80.5">3</tspan><tspan x="115">3</tspan><tspan x="148.5">0</tspan><tspan x="186">6</tspan></text>
<rect class="o" x="63" y="1152" width="144" height="101"/>
</g>
<g id="electiva-humanistica-2">
<rect class="bl" x="227" y="1169" width="142" height="45"/>
<text class="t" x="298" y="1196.3">Electiva humanistica</text>
<rect class="gr" x="227" y="1152" width="142" height="17"/>
<rect class="w" x="227" y="1214" width="142" height="39"/>
<path class="tl" d="M227,1214H369M227,1235H369M259,1214V1253M293,1214V1253M327,1214V1253"/>
<use href="#lbII" y="1228.1"/>
<text class="v" y="1248.3"><tspan x="243">3</tspan><tspan x="276">3</tspan><tspan x="310">0</tspan><tspan x="348">6</tspan></text>
<rect class="o" x="227" y="1152" width="142" height="101"/>
</g>
<g id="metodologia-investigacion">
<rect class="bl" x="389" y="1169" width="142" height="45"/>
<text class="t" x="460" y="1188">Metodologia de la</text>
<text class="t" x="460" y="1204.5">investigación</text>
<rect class="gr" x="389" y="1152" width="142" height="17"/>
<rect class="w" x="389" y="1214" width="142" height="39"/>
<path class="tl" d="M389,1214H531M389,1235H531M422,1214V1253M458,1214V1253M495,1214V1253"/>
<use href="#lbIII" y="1228.1"/>
<text class="v" y="1248.3"><tspan x="405.5">3</tspan><tspan x="440">3</tspan><tspan x="476.5">0</tspan><tspan x="513">6</tspan></text>
<rect class="o" x="389" y="1152" width="142" height="101"/>
</g>
<g id="formacion-empresarial">
<rect class="bl" x="761" y="1169" width="139" height="45"/>
<text class="t" x="830.5" y="1196.3">Formación empresarial</text>
<rect class="gr" x="761" y="1152" width="139" height="17"/>
<rect class="w" x="761" y="1214" width="139" height="39"/>
<path class="tl" d="M761,1214H900M761,1235H900M794,1214V1253M828,1214V1253M861,1214V1253"/>
<use href="#lbV" y="1228.1"/>
<text class="v" y="1248.3"><tspan x="777.5">2</tspan><tspan x="811">2</tspan><tspan x="844.5">0</tspan><tspan x="880.5">4</tspan></text>
<rect class="o" x="761" y="1152" width="139" height="101"/>
</g>
<g id="desarrollo-iniciativas">
<rect class="bl" x="1127" y="1169" width="135" height="45"/>
<text class="t" x="1194.5" y="1188">Desarrollo de iniciativas</text>
<text class="t" x="1194.5" y="1204.5">empresariales</text>
<rect class="gr" x="1127" y="1152" width="135" height="17"/>
<rect class="w" x="1127" y="1214" width="135" height="39"/>
<path class="tl" d="M1127,1214H1262M1127,1235H1262M1157,1214V1253M1191,1214V1253M1224,1214V1253"/>
<use href="#lbVII" y="1228.1"/>
<text class="v" y="1248.3"><tspan x="1142">2</tspan><tspan x="1174">2</tspan><tspan x="1207.5">0</tspan><tspan x="1243">4</tspan></text>
<rect class="o" x="1127" y="1152" width="135" height="101"/>
</g>
<g id="electiva-humanistica-8">
<rect class="bl" x="1287" y="1169" width="127" height="45"/>
<text class="t" x="1350.5" y="1196.3">Electiva humanistica</text>
<rect class="gr" x="1287" y="1152" width="127" height="17"/>
<rect class="w" x="1287" y="1214" width="127" height="39"/>
<path class="tl" d="M1287,1214H1414M1287,1235H1414M1315,1214V1253M1350,1214V1253M1383,1214V1253"/>
<use href="#lbVIII" y="1228.1"/>
<text class="v" y="1248.3"><tspan x="1301">2</tspan><tspan x="1332.5">2</tspan><tspan x="1366.5">0</tspan><tspan x="1398.5">4</tspan></text>
<rect class="o" x="1287" y="1152" width="127" height="101"/>
</g>
<g id="etica">
<rect class="bl" x="1439" y="1169" width="128" height="45"/>
<text class="t" x="1503" y="1196.3">Ética</text>
<rect class="gr" x="1439" y="1152" width="128" height="17"/>
<rect class="w" x="1439" y="1214" width="128" height="39"/>
<path class="tl" d="M1439,1214H1567M1439,1235H1567M1471,1214V1253M1503,1214V1253M1537,1214V1253"/>
<use href="#lbIX" y="1228.1"/>
<text class="v" y="1248.3"><tspan x="1455">2</tspan><tspan x="1487">2</tspan><tspan x="1520">0</tspan><tspan x="1552">4</tspan></text>
<rect class="o" x="1439" y="1152" width="128" height="101"/>
</g>

<!-- Row K -->
<g id="emprendimiento">
<rect class="bl" x="227" y="1277" width="142" height="27"/>
<text class="t" x="298" y="1295.3">Emprendimiento</text>
<rect class="gr" x="227" y="1260" width="142" height="17"/>
<rect class="w" x="227" y="1304" width="142" height="35"/>
<path class="tl" d="M227,1304H369M227,1322H369M259,1304V1339M293,1304V1339M327,1304V1339"/>
<use href="#lbII" y="1316.6"/>
<text class="v" y="1334.8"><tspan x="243">2</tspan><tspan x="276">2</tspan><tspan x="310">0</tspan><tspan x="348">4</tspan></text>
<rect class="o" x="227" y="1260" width="142" height="79"/>
</g>
<g id="creatividad-innovacion">
<rect class="bl" x="548" y="1277" width="141" height="27"/>
<text class="t" x="618.5" y="1295.3">Creatividad e innovación</text>
<rect class="gr" x="548" y="1260" width="141" height="17"/>
<rect class="w" x="548" y="1304" width="141" height="35"/>
<path class="tl" d="M548,1304H689M548,1322H689M575,1304V1339M608,1304V1339M642,1304V1339"/>
<use href="#lbIV" y="1316.6"/>
<text class="v" y="1334.8"><tspan x="561.5">2</tspan><tspan x="591.5">2</tspan><tspan x="625">0</tspan><tspan x="665.5">4</tspan></text>
<rect class="o" x="548" y="1260" width="141" height="79"/>
</g>

<!-- Totals -->
<g id="totals">
<g id="total-1">
<rect class="w" x="63" y="1393" width="144" height="51"/>
<path class="tl" d="M63,1411H207M63,1427H207M98,1393V1444M132,1393V1427M165,1393V1427"/>
<use href="#lbI" y="1405.6"/>
<text class="v" y="1423.3"><tspan x="80.5">18</tspan><tspan x="115">18</tspan><tspan x="148.5">0</tspan><tspan x="186">36</tspan></text>
<text class="l" x="80.5" y="1439.3">HDS</text><text class="v" x="152.5" y="1439.8">54,0</text>
<rect class="o" x="63" y="1393" width="144" height="51"/>
</g>
<g id="total-2">
<rect class="w" x="227" y="1393" width="142" height="51"/>
<path class="tl" d="M227,1411H369M227,1427H369M259,1393V1444M293,1393V1427M327,1393V1427"/>
<use href="#lbII" y="1405.6"/>
<text class="v" y="1423.3"><tspan x="243">18</tspan><tspan x="276">18</tspan><tspan x="310">0</tspan><tspan x="348">36</tspan></text>
<text class="l" x="243" y="1439.3">HDS</text><text class="v" x="314" y="1439.8">54,0</text>
<rect class="o" x="227" y="1393" width="142" height="51"/>
</g>
<g id="total-3">
<rect class="w" x="389" y="1393" width="142" height="51"/>
<path class="tl" d="M389,1411H531M389,1427H531M422,1393V1444M458,1393V1427M495,1393V1427"/>
<use href="#lbIII" y="1405.6"/>
<text class="v" y="1423.3"><tspan x="405.5">17</tspan><tspan x="440">17</tspan><tspan x="476.5">0</tspan><tspan x="513">34</tspan></text>
<text class="l" x="405.5" y="1439.3">HDS</text><text class="v" x="476.5" y="1439.8">51,0</text>
<rect class="o" x="389" y="1393" width="142" height="51"/>
</g>
<g id="total-4">
<rect class="w" x="548" y="1393" width="141" height="51"/>
<path class="tl" d="M548,1411H689M548,1427H689M575,1393V1444M608,1393V1427M642,1393V1427"/>
<use href="#lbIV" y="1405.6"/>
<text class="v" y="1423.3"><tspan x="561.5">18</tspan><tspan x="591.5">14</tspan><tspan x="625">8</tspan><tspan x="665.5">32</tspan></text>
<text class="l" x="561.5" y="1439.3">HDS</text><text class="v" x="632" y="1439.8">54,0</text>
<rect class="o" x="548" y="1393" width="141" height="51"/>
</g>
<g id="total-5">
<rect class="w" x="761" y="1393" width="139" height="51"/>
<path class="tl" d="M761,1411H900M761,1427H900M794,1393V1444M828,1393V1427M861,1393V1427"/>
<use href="#lbV" y="1405.6"/>
<text class="v" y="1423.3"><tspan x="777.5">18</tspan><tspan x="811">18</tspan><tspan x="844.5">0</tspan><tspan x="880.5">36</tspan></text>
<text class="l" x="777.5" y="1439.3">HDS</text><text class="v" x="847" y="1439.8">54,0</text>
<rect class="o" x="761" y="1393" width="139" height="51"/>
</g>
<g id="total-6">
<rect class="w" x="929" y="1393" width="136" height="51"/>
<path class="tl" d="M929,1411H1065M929,1427H1065M958,1393V1444M992,1393V1427M1026,1393V1427"/>
<use href="#lbVI" y="1405.6"/>
<text class="v" y="1423.3"><tspan x="943.5">18</tspan><tspan x="975">14</tspan><tspan x="1009">8</tspan><tspan x="1045.5">32</tspan></text>
<text class="l" x="943.5" y="1439.3">HDS</text><text class="v" x="1011.5" y="1439.8">54,0</text>
<rect class="o" x="929" y="1393" width="136" height="51"/>
</g>
<g id="total-7">
<rect class="w" x="1127" y="1393" width="135" height="51"/>
<path class="tl" d="M1127,1411H1262M1127,1427H1262M1157,1393V1444M1191,1393V1427M1224,1393V1427"/>
<use href="#lbVII" y="1405.6"/>
<text class="v" y="1423.3"><tspan x="1142">18</tspan><tspan x="1174">18</tspan><tspan x="1207.5">0</tspan><tspan x="1243">36</tspan></text>
<text class="l" x="1142" y="1439.3">HDS</text><text class="v" x="1209.5" y="1439.8">54,0</text>
<rect class="o" x="1127" y="1393" width="135" height="51"/>
</g>
<g id="total-8">
<rect class="w" x="1287" y="1393" width="127" height="51"/>
<path class="tl" d="M1287,1411H1414M1287,1427H1414M1315,1393V1444M1350,1393V1427M1383,1393V1427"/>
<use href="#lbVIII" y="1405.6"/>
<text class="v" y="1423.3"><tspan x="1301">18</tspan><tspan x="1332.5">18</tspan><tspan x="1366.5">0</tspan><tspan x="1398.5">36</tspan></text>
<text class="l" x="1301" y="1439.3">HDS</text><text class="v" x="1364.5" y="1439.8">54,0</text>
<rect class="o" x="1287" y="1393" width="127" height="51"/>
</g>
<g id="total-9">
<rect class="w" x="1439" y="1393" width="128" height="51"/>
<path class="tl" d="M1439,1411H1567M1439,1427H1567M1471,1393V1444M1503,1393V1427M1537,1393V1427"/>
<use href="#lbIX" y="1405.6"/>
<text class="v" y="1423.3"><tspan x="1455">16</tspan><tspan x="1487">12</tspan><tspan x="1520">8</tspan><tspan x="1552">28</tspan></text>
<text class="l" x="1455" y="1439.3">HDS</text><text class="v" x="1519" y="1439.8">48,0</text>
<rect class="o" x="1439" y="1393" width="128" height="51"/>
</g>
<g id="total-creditos">
<rect x="1470" y="1462" width="97" height="24" fill="#fff" stroke="#000" stroke-width="2.5"/>
<text x="1518.5" y="1480" style="font-size:16px;font-weight:bold">159</text>
</g>
</g>

<g id="connectors">
<path class="c a" d="M207,95H243"/>
<path class="c a" d="M311,46V30H831V61"/>
<path class="c a" d="M369,194H618V137"/>
<path class="c a" d="M900,90H944"/>
<path class="c a" d="M1071,88H1128"/>
<path class="c a" d="M894,196H938"/>
<path class="c a" d="M996,244V256H1490V232"/>
<path class="c a" d="M1037,243L1131,542"/>
<path class="c" d="M1065,1009H1090"/>
<path class="g" d="M1090,1009V143H1405V97"/>
<path class="c a" d="M1403,97H1451"/>
<path class="c a" d="M207,407H242"/>
<path class="c a" d="M369,407H402"/>
<path class="c a" d="M531,407H563"/>
<path class="c a" d="M713,407H776"/>
<path class="c a" d="M895,407H936"/>
<path class="c a" d="M1067,407H1132"/>
<path class="c a" d="M1270,407H1304"/>
<path class="c a" d="M1425,407H1460"/>
<path class="c a" d="M207,545H243"/>
<path class="c a" d="M369,545H402"/>
<path class="c a" d="M531,545H562"/>
<path class="c" d="M456,612V603"/>
<path class="r" d="M456,603H716"/>
<path class="r" d="M716,548V1020"/>
<path class="c a" d="M716,548H765"/>
<path class="c" d="M690,1020H716"/>
<path class="c a" d="M898,532H908V885H937"/>
<path class="c a" d="M898,768H940"/>
<path class="r" d="M918,768V540"/>
<path class="c a" d="M918,540H945"/>
<path class="c" d="M1065,536H1108"/>
<path class="r" d="M1108,536V769"/>
<path class="c a" d="M1065,769H1133"/>
<path class="c a" d="M1262,548H1297"/>
<path class="c a" d="M585,817V948H1427V547H1457"/>
<path class="c a" d="M826,1075V1103H1276V657H1307"/>
<path class="c a" d="M620,958V897H829V818"/>
<path class="c a" d="M844,817L923,966"/>
<path class="c a" d="M880,817V829H1076V662H1139"/>
<path class="c a" d="M690,637H742V604H1005V626"/>
<path class="c" d="M986,713V720"/>
<path class="or" d="M986,720H1499"/>
<path class="c a" d="M1499,720V703"/>
<path class="c a" d="M457,817V843H703V666H777"/>
<path class="c a" d="M207,763H389"/>
<path class="c a" d="M297,763V713"/>
<path class="c a" d="M125,817V1012H376"/>
<path class="c a" d="M531,1018H564"/>
<path class="c a" d="M369,665H402"/>
<path class="c a" d="M187,1152V1130H415V1148"/>
<path class="c a" d="M227,1236H213V1299H169V1357H1356V1254"/>
<path class="c a" d="M367,1291H540"/>
<path class="c a" d="M690,1301H841V1254"/>
<path class="c a" d="M903,1190H1137"/>
<path class="c a" d="M1414,1197H1438"/>
</g>
</svg>
